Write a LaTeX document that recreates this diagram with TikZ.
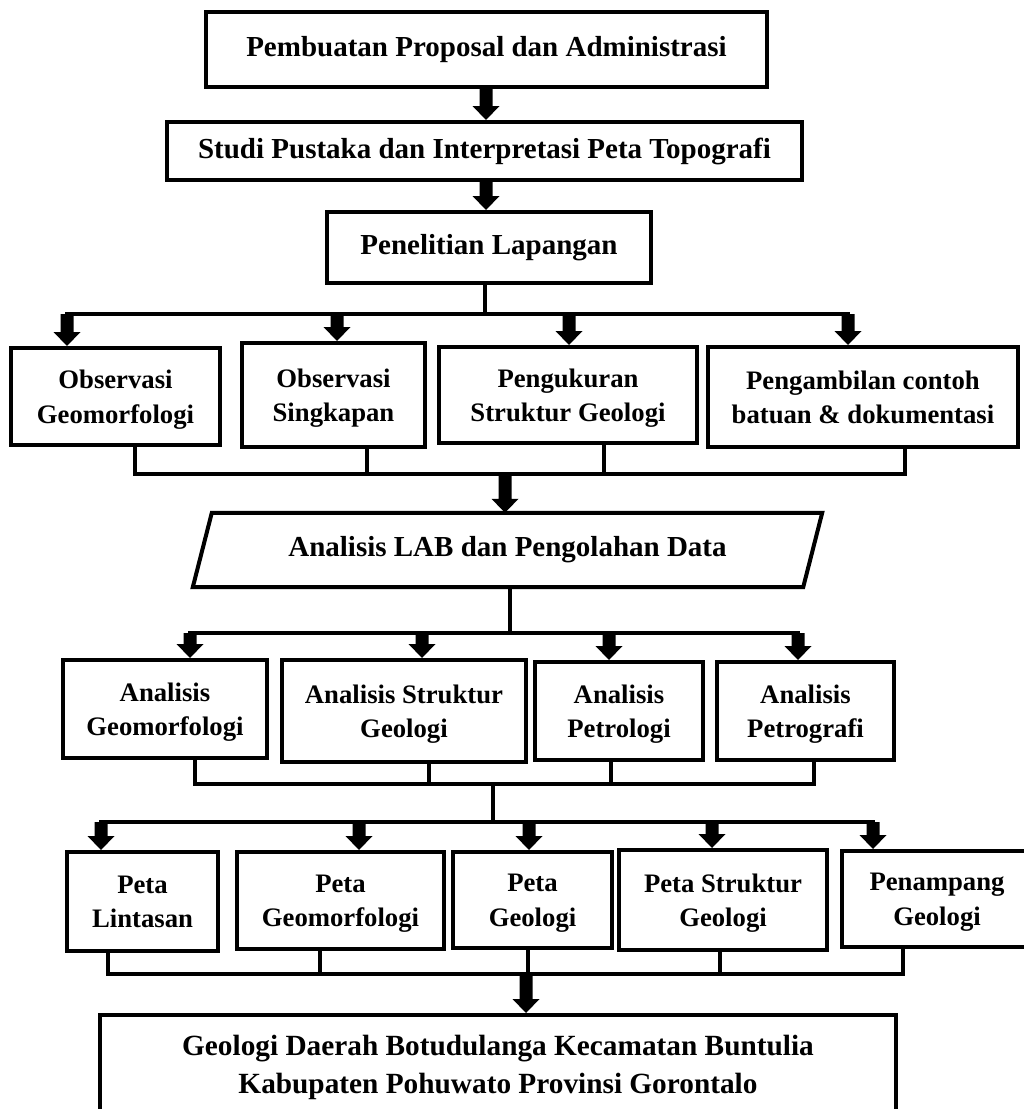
\documentclass[tikz,border=0pt]{standalone}
\usepackage{fontspec}
\setmainfont{Liberation Serif}
\usetikzlibrary{calc}
\newcommand{\fatarrow}[2]{%
  \fill let \p1=(#1), \p2=(#2) in
    (\x2-6.5pt,\y1) -- (\x2+6.5pt,\y1) -- (\x2+6.5pt,\y2+14pt) -- (\x2+13.5pt,\y2+14pt)
    -- (\x2,\y2) -- (\x2-13.5pt,\y2+14pt) -- (\x2-6.5pt,\y2+14pt) -- cycle;}
\begin{document}
\begin{tikzpicture}[x=1pt,y=-1pt,
  box/.style={draw, line width=4pt, align=center, inner sep=0pt,
    font=\fontsize{29}{35}\selectfont\bfseries},
  rowbox/.style={box, font=\fontsize{26.7}{34.5}\selectfont\bfseries},
  lowered/.style={text depth=#1},
  wire/.style={line width=3.5pt, line cap=rect},
]
\useasboundingbox (0,0) rectangle (1024,1109);
\clip (0,0) rectangle (1024,1109);
% top chain
\node[box, minimum width=561, minimum height=75] (b1) at (486.5,49.5) {Pembuatan Proposal dan Administrasi};
\node[box, minimum width=635, minimum height=58] (b2) at (484.5,151) {Studi Pustaka dan Interpretasi Peta Topografi};
\node[box, minimum width=324, minimum height=71] (b3) at (489,247.5) {Penelitian Lapangan};
% row A
\node[rowbox, lowered=-7pt, minimum width=209, minimum height=97] (a1) at (115.5,396.5) {Observasi\\Geomorfologi};
\node[rowbox, lowered=-7pt, minimum width=183, minimum height=104] (a2) at (333.5,395) {Observasi\\Singkapan};
\node[rowbox, lowered=-7pt, minimum width=258, minimum height=96] (a3) at (568,395) {Pengukuran\\Struktur Geologi};
\node[rowbox, lowered=-7pt, minimum width=310, minimum height=100] (a4) at (863,397) {Pengambilan contoh\\batuan \& dokumentasi};
% parallelogram
\node[inner sep=0pt, minimum width=629, minimum height=74, font=\fontsize{29}{35}\selectfont\bfseries] (lab) at (507.5,550) {Analisis LAB dan Pengolahan Data};
\draw[line width=4pt, line join=miter] ($(lab.north west)+(19,0)$) -- (lab.north east) -- ($(lab.south east)-(19,0)$) -- (lab.south west) -- cycle;
% row B
\node[rowbox, lowered=-7pt, minimum width=204, minimum height=98] (c1) at (165,709) {Analisis\\Geomorfologi};
\node[rowbox, lowered=-7pt, minimum width=244, minimum height=102] (c2) at (404,711) {Analisis Struktur\\Geologi};
\node[rowbox, lowered=-7pt, minimum width=168, minimum height=98] (c3) at (619,711) {Analisis\\Petrologi};
\node[rowbox, lowered=-7pt, minimum width=177, minimum height=98] (c4) at (805.5,711) {Analisis\\Petrografi};
% row C
\node[rowbox, lowered=-1pt, minimum width=151, minimum height=99] (d1) at (142.5,901.5) {Peta\\Lintasan};
\node[rowbox, lowered=-1pt, minimum width=207, minimum height=97] (d2) at (340.5,900.5) {Peta\\Geomorfologi};
\node[rowbox, lowered=-1pt, minimum width=159, minimum height=96] (d3) at (532.5,900) {Peta\\Geologi};
\node[rowbox, lowered=-1pt, minimum width=208, minimum height=100] (d4) at (723,900) {Peta Struktur\\Geologi};
\node[rowbox, lowered=-1pt, minimum width=190, minimum height=96] (d5) at (937,899) {Penampang\\Geologi};
% final
\node[box, lowered=0pt, minimum width=796, minimum height=98, font=\fontsize{29.3}{38}\selectfont\bfseries] (fin) at (498,1064) {Geologi Daerah Botudulanga Kecamatan Buntulia\\Kabupaten Pohuwato Provinsi Gorontalo};

% coordinates
\coordinate (t1) at (486,87);
\coordinate (t2) at (486,181);
\coordinate (jA) at (485,314);
\coordinate (pA1) at (67,314);
\coordinate (pA2) at (337,314);
\coordinate (pA3) at (569,314);
\coordinate (pA4) at (848,314);
\coordinate (qA1) at (135,474);
\coordinate (qA2) at (367,474);
\coordinate (qA3) at (604,474);
\coordinate (qA4) at (905,474);
\coordinate (sA) at (505,474);
\coordinate (jB) at (510,633);
\coordinate (pB1) at (190,633);
\coordinate (pB2) at (422,633);
\coordinate (pB3) at (609,633);
\coordinate (pB4) at (798,633);
\coordinate (qB1) at (195,784);
\coordinate (qB2) at (429,784);
\coordinate (qB3) at (611,784);
\coordinate (qB4) at (814,784);
\coordinate (jC) at (493,784);
\coordinate (kC) at (493,822);
\coordinate (pC1) at (101,822);
\coordinate (pC2) at (359,822);
\coordinate (pC3) at (529,822);
\coordinate (pC4) at (712,822);
\coordinate (pC5) at (873,822);
\coordinate (qC1) at (108,974);
\coordinate (qC2) at (320,974);
\coordinate (qC3) at (528,974);
\coordinate (qC4) at (720,974);
\coordinate (qC5) at (903,974);
\coordinate (sC) at (526,974);

% wires
\draw[wire] (jA |- b3.south) -- (jA);
\draw[wire] (pA1) -- (pA4);
\draw[wire] (a1.south -| qA1) -- (qA1) -- (qA4) -- (a4.south -| qA4);
\draw[wire] (a2.south -| qA2) -- (qA2);
\draw[wire] (a3.south -| qA3) -- (qA3);
\draw[wire] (jB |- lab.south) -- (jB);
\draw[wire] (pB1) -- (pB4);
\draw[wire] (c1.south -| qB1) -- (qB1) -- (qB4) -- (c4.south -| qB4);
\draw[wire] (c2.south -| qB2) -- (qB2);
\draw[wire] (c3.south -| qB3) -- (qB3);
\draw[wire] (jC) -- (kC);
\draw[wire] (pC1) -- (pC5);
\draw[wire] (d1.south -| qC1) -- (qC1) -- (qC5) -- (d5.south -| qC5);
\draw[wire] (d2.south -| qC2) -- (qC2);
\draw[wire] (d3.south -| qC3) -- (qC3);
\draw[wire] (d4.south -| qC4) -- (qC4);

% arrows
\fatarrow{t1}{t1 |- b2.north}
\fatarrow{t2}{t2 |- b3.north}
\fatarrow{pA1}{pA1 |- a1.north}
\fatarrow{pA2}{pA2 |- a2.north}
\fatarrow{pA3}{pA3 |- a3.north}
\fatarrow{pA4}{pA4 |- a4.north}
\fatarrow{sA}{sA |- lab.north}
\fatarrow{pB1}{pB1 |- c1.north}
\fatarrow{pB2}{pB2 |- c2.north}
\fatarrow{pB3}{pB3 |- c3.north}
\fatarrow{pB4}{pB4 |- c4.north}
\fatarrow{pC1}{pC1 |- d1.north}
\fatarrow{pC2}{pC2 |- d2.north}
\fatarrow{pC3}{pC3 |- d3.north}
\fatarrow{pC4}{pC4 |- d4.north}
\fatarrow{pC5}{pC5 |- d5.north}
\fatarrow{sC}{sC |- fin.north}
\end{tikzpicture}
\end{document}
